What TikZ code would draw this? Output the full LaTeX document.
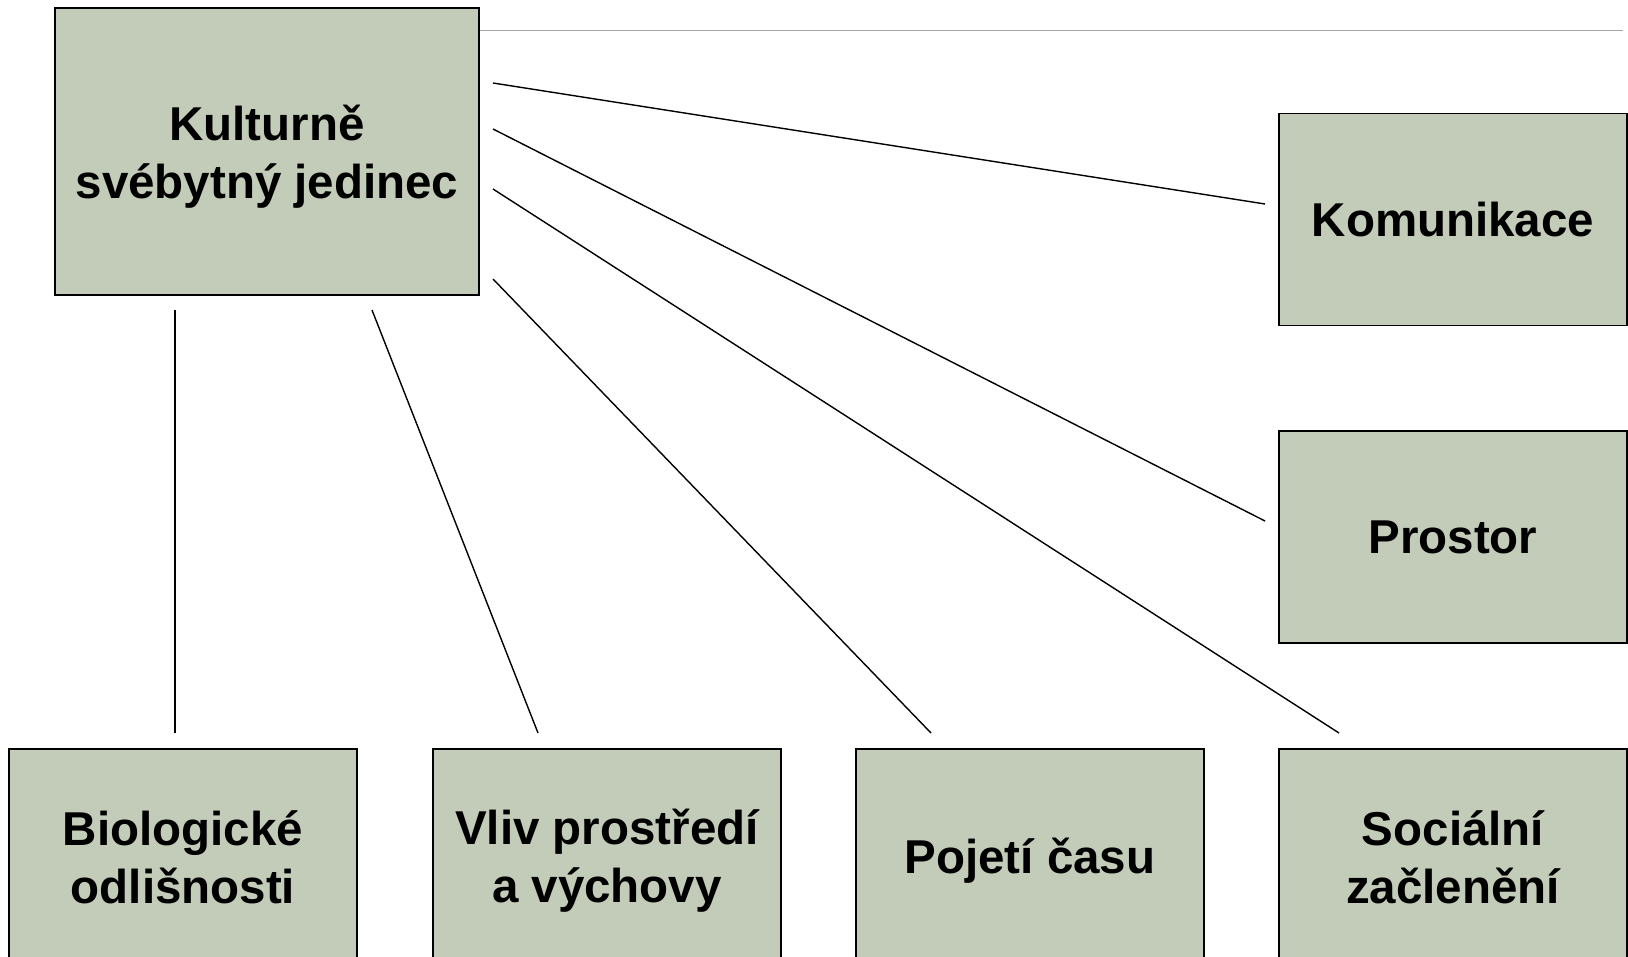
\documentclass[tikz,border=0pt]{standalone}
\usepackage{fontspec}
\setmainfont{Liberation Sans}
\definecolor{boxfill}{RGB}{194,204,184}
\tikzset{
  topic/.style={rectangle,draw=black,line width=1.8pt,fill=boxfill,
    minimum width=348pt,minimum height=212pt,align=center,inner sep=0pt,
    font=\fontsize{47.5}{58}\selectfont\bfseries},
  link/.style={draw=black,line width=1.4pt}
}

\begin{document}
\begin{tikzpicture}[x=1pt,y=-1pt]
\useasboundingbox (0,0) rectangle (1628,957);

\begin{scope}[every node/.style={topic}]
    \node[minimum width=424pt,minimum height=287pt,text height=103pt] (jed) at (267,151.5) {Kulturně\\svébytný jedinec};
    \node (kom) at (1453,219.5) {Komunikace};
    \node (pro) at (1453,537)   {Prostor};
    \node[minimum height=216pt] (bio) at (183,857)  {Biologické\\odlišnosti};
    \node[minimum height=216pt,text height=101pt] (vli) at (607,857)  {Vliv prostředí\\a výchovy};
    \node[minimum height=216pt,text height=43pt] (cas) at (1030,857) {Pojetí času};
    \node[minimum height=216pt] (soc) at (1453,857) {Sociální\\začlenění};
\end{scope}

% thin rule along the top
\draw[gray!70,line width=1pt] (jed.north east |- 0,31) -- (1623,31);

% free ends of the connectors
\coordinate (j1) at (493,83);   \coordinate (e1) at (1265,204);
\coordinate (j2) at (493,129);  \coordinate (e2) at (1265,521);
\coordinate (j3) at (493,189);  \coordinate (e3) at (1339,733);
\coordinate (j4) at (493,279);  \coordinate (e4) at (931,733);
\coordinate (j5) at (372,310);  \coordinate (e5) at (538,733);
\coordinate (j6) at (175,310);  \coordinate (e6) at (175,733);

\begin{scope}[every path/.style={link}]
    \path (j1) edge (e1);
    \path (j2) edge (e2);
    \path (j3) edge (e3);
    \path (j4) edge (e4);
    \path (j5) edge (e5);
    \path (j6) edge (e6);
\end{scope}
\end{tikzpicture}
\end{document}
